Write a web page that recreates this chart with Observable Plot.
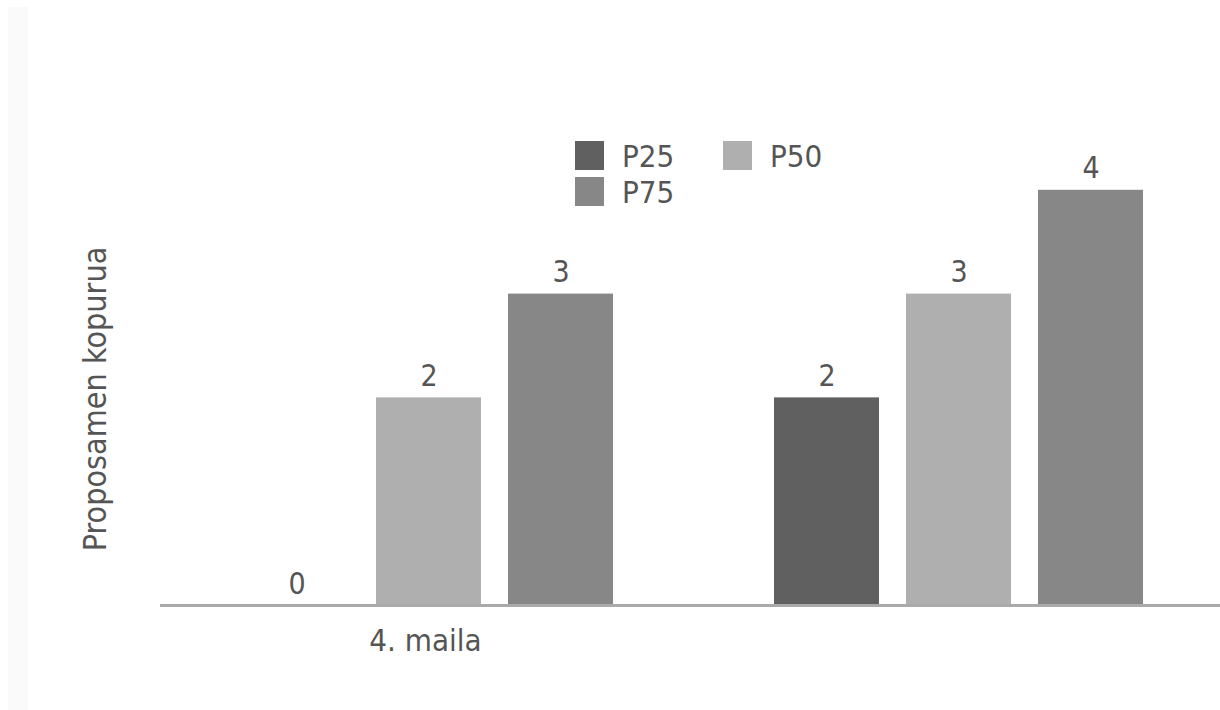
<!DOCTYPE html>
<html>
<head>
<meta charset="utf-8">
<script src="https://cdn.jsdelivr.net/npm/d3@7"></script>
<script src="https://cdn.jsdelivr.net/npm/@observablehq/plot@0.6"></script>
<style>
  html, body { margin: 0; padding: 0; background: #fff; }
  #wrap { position: relative; width: 1220px; height: 710px; overflow: hidden;
          font-family: "DejaVu Sans", sans-serif; font-stretch: condensed; }
  #strip { position: absolute; left: 8px; top: 7px; width: 20px; height: 703px; background: #fafafa; }
  #legend { position: absolute; left: 575px; top: 141px; width: 300px; color: #555; font-size: 31px; }
  .item { position: absolute; display: flex; align-items: center; height: 29px; }
  .sw { width: 29px; height: 29px; margin-right: 18px; }
  #chart { position: absolute; left: 0; top: 0; }
  #chart svg text { font-stretch: condensed; }
</style>
</head>
<body>
<div id="wrap">
  <div id="strip"></div>
  <div id="chart"></div>
  <div id="legend"></div>
</div>
<script>
// Groups along the bottom, and the three percentile series within each group
const groups = ["4. maila", ""];
const series = ["P25", "P50", "P75"];
const colors = ["#606060", "#afafaf", "#878787"];
const valuesP25 = [0, 2];
const valuesP50 = [2, 3];
const valuesP75 = [3, 4];
const yTitle = "Proposamen kopurua";

const seriesValues = [valuesP25, valuesP50, valuesP75];
const rows = [];
groups.forEach((g, gi) => {
  series.forEach((s, si) => rows.push({group: g, series: s, value: seriesValues[si][gi]}));
});

const textColor = "#555";
const font = "'DejaVu Sans', sans-serif";

const chart = Plot.plot({
  width: 1220,
  height: 710,
  marginLeft: 160,
  marginRight: 0,
  marginTop: 86,
  marginBottom: 105,
  style: {fontFamily: font, fontSize: "31px", color: textColor, background: "transparent"},
  fx: {domain: groups, padding: 0, label: null, tickSize: 0, tickPadding: 23},
  x: {domain: series, paddingInner: 0.203, paddingOuter: 0.594, align: 0.525, axis: null},
  y: {domain: [0, 5], axis: null},
  color: {domain: series, range: colors},
  marks: [
    Plot.barY(rows, {fx: "group", x: "series", y: "value", fill: "series"}),
    Plot.ruleY([0], {stroke: "#aaa", strokeWidth: 3}),
    Plot.text(rows, {
      fx: "group", x: "series", y: "value", text: d => String(d.value),
      lineAnchor: "bottom", dy: -12, fill: textColor, fontSize: 30
    }),
    Plot.text([yTitle], {
      frameAnchor: "left", textAnchor: "middle", rotate: -90, dx: -65, dy: 53,
      fill: textColor, fontSize: 32, facetAnchor: "left"
    })
  ]
});
document.getElementById("chart").appendChild(chart);

// Legend: two columns, wrapping to a second row
const legend = document.getElementById("legend");
const legendPos = [[0, 0], [148, 0], [0, 36]];
series.forEach((s, i) => {
  const item = document.createElement("div");
  item.className = "item";
  item.style.left = legendPos[i][0] + "px";
  item.style.top = legendPos[i][1] + "px";
  const sw = document.createElement("div");
  sw.className = "sw";
  sw.style.background = colors[i];
  const label = document.createElement("span");
  label.textContent = s;
  item.appendChild(sw);
  item.appendChild(label);
  legend.appendChild(item);
});
</script>
</body>
</html>
